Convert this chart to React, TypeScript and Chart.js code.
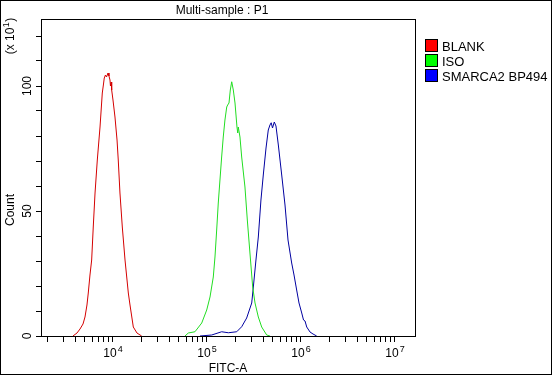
import React, { useEffect, useRef } from "react";
import { Chart, registerables } from "chart.js";

Chart.register(...registerables);

// FITC-A positions are stored as log10 exponents; counts are in units of 10^1
const blankExp = [3.574, 3.617, 3.649, 3.681, 3.702, 3.723, 3.737, 3.755, 3.773, 3.790, 3.809, 3.833, 3.862, 3.886, 3.899, 3.907, 3.920, 3.931, 3.947, 3.957, 3.968, 3.973, 3.981, 3.986, 4.000, 4.021, 4.043, 4.056, 4.074, 4.099, 4.128, 4.163, 4.181, 4.216, 4.255, 4.305];
const blankCount = [0, 1.2, 2.8, 4.8, 7.6, 12.4, 17.2, 24.4, 30.4, 43.6, 57.2, 70.4, 83.6, 97.2, 100.8, 103.2, 104.4, 103.6, 105.2, 104, 102.4, 100, 101.6, 98.4, 94.4, 87.6, 78.4, 70.4, 57.2, 43.6, 30.4, 17.2, 12.4, 3.6, 1.2, 0];

const isoExp = [4.766, 4.801, 4.872, 4.944, 4.997, 5.032, 5.067, 5.085, 5.103, 5.120, 5.138, 5.156, 5.173, 5.191, 5.210, 5.220, 5.234, 5.248, 5.263, 5.280, 5.298, 5.319, 5.327, 5.333, 5.351, 5.369, 5.404, 5.429, 5.457, 5.486, 5.511, 5.546, 5.582, 5.635, 5.670];
const isoCount = [0, 1.2, 1.7, 5.2, 10.4, 15.6, 23.6, 31.6, 42.4, 53.2, 62.4, 71.6, 79.6, 86.4, 91.6, 92.4, 93.2, 98.4, 101.7, 98.4, 93.2, 83.6, 81.2, 83.6, 79.6, 71.6, 59.6, 46.4, 33.2, 19.6, 13.2, 7.6, 3.6, 0.4, 0];

const smarcaExp = [4.926, 5.050, 5.156, 5.227, 5.316, 5.369, 5.422, 5.476, 5.493, 5.521, 5.546, 5.574, 5.599, 5.628, 5.652, 5.670, 5.683, 5.697, 5.716, 5.734, 5.759, 5.795, 5.830, 5.862, 5.901, 5.926, 5.954, 5.979, 6.008, 6.027, 6.043, 6.061, 6.096, 6.128, 6.167];
const smarcaCount = [0, 0.4, 1.7, 1.3, 1.7, 3.7, 7.2, 13.2, 19.6, 30.4, 39.6, 54.4, 64.4, 75.2, 82.4, 84.4, 85.3, 83.2, 85.6, 84, 76.4, 64.4, 52.4, 38.4, 29.2, 24.4, 18.4, 13.2, 9.2, 6.4, 6, 3.6, 1.6, 0.8, 0];

const seriesNames = ["BLANK", "ISO", "SMARCA2 BP494"];
const lineColors = ["#d40000", "#22dd22", "#0000a0"];
const legendColors = ["#ff0000", "#00ff00", "#0000ff"];
const xDecades = [4, 5, 6, 7];
const yLabels = [0, 50, 100];
const yMax = 126.8;
const xMinExp = 3.234;
const xMaxExp = 7.213;

const FONT = "'Liberation Sans', Arial, sans-serif";

const toPoints = (ex: number[], cnt: number[]) => ex.map((e, i) => ({ x: Math.pow(10, e), y: cnt[i] }));

const decorPlugin = {
  id: "decor",
  afterDraw(chart: any) {
    const ctx = chart.ctx;
    const a = chart.chartArea;
    const xs = chart.scales.x;
    const ys = chart.scales.y;
    ctx.save();
    ctx.strokeStyle = "#000";
    ctx.lineWidth = 1;
    // outer border
    ctx.strokeRect(0.5, 0.5, chart.width - 1, chart.height - 1);
    // plot frame
    ctx.strokeRect(Math.round(a.left) + 0.5, Math.round(a.top) + 0.5, Math.round(a.right - a.left), Math.round(a.bottom - a.top));
    ctx.fillStyle = "#000";
    // title
    ctx.font = `12px ${FONT}`;
    ctx.textAlign = "center";
    ctx.textBaseline = "alphabetic";
    ctx.fillText("Multi-sample : P1", (a.left + a.right) / 2 - 6, 14);
    // x tick labels
    xDecades.forEach((d) => {
      const px = xs.getPixelForValue(Math.pow(10, d));
      ctx.font = `12px ${FONT}`;
      const w10 = ctx.measureText("10").width;
      ctx.font = `9px ${FONT}`;
      const wSup = ctx.measureText(String(d)).width;
      const start = px - (w10 + wSup + 1) / 2;
      ctx.textAlign = "left";
      ctx.font = `12px ${FONT}`;
      ctx.fillText("10", start, 357);
      ctx.font = `9px ${FONT}`;
      ctx.fillText(String(d), start + w10 + 1, 352);
    });
    // x title
    ctx.font = `12px ${FONT}`;
    ctx.textAlign = "center";
    ctx.fillText("FITC-A", (a.left + a.right) / 2, 372);
    // y tick labels (rotated)
    yLabels.forEach((v) => {
      const py = ys.getPixelForValue(v);
      ctx.save();
      ctx.translate(31, py);
      ctx.rotate(-Math.PI / 2);
      ctx.font = `12px ${FONT}`;
      ctx.textAlign = "center";
      ctx.fillText(String(v), 0, 0);
      ctx.restore();
    });
    // y title
    ctx.save();
    ctx.translate(14, 210);
    ctx.rotate(-Math.PI / 2);
    ctx.font = `12px ${FONT}`;
    ctx.textAlign = "center";
    ctx.fillText("Count", 0, 0);
    ctx.restore();
    ctx.save();
    ctx.translate(14, 36);
    ctx.rotate(-Math.PI / 2);
    ctx.font = `12px ${FONT}`;
    ctx.textAlign = "left";
    const t1 = "(x 10";
    const wt1 = ctx.measureText(t1).width;
    ctx.textAlign = "left";
    const total = wt1 + 6 + ctx.measureText(")").width;
    const sx = -total / 2;
    ctx.fillText(t1, sx, 0);
    ctx.font = `9px ${FONT}`;
    ctx.fillText("1", sx + wt1 + 0.5, -5);
    ctx.font = `12px ${FONT}`;
    ctx.fillText(")", sx + wt1 + 6, 0);
    ctx.restore();
    // legend
    seriesNames.forEach((name, i) => {
      const y0 = 40 + i * 15;
      ctx.fillStyle = legendColors[i];
      ctx.fillRect(426, y0, 11, 11);
      ctx.strokeStyle = "#000";
      ctx.strokeRect(425.5, y0 - 0.5, 12, 12);
      ctx.fillStyle = "#000";
      ctx.font = `13px ${FONT}`;
      ctx.textAlign = "left";
      ctx.fillText(name, 442, y0 + 11);
    });
    ctx.restore();
  },
};

export default function App() {
  const ref = useRef<HTMLCanvasElement | null>(null);
  useEffect(() => {
    document.body.style.margin = "0";
    const canvas = ref.current;
    if (!canvas) return;
    const datasets = [
      toPoints(blankExp, blankCount),
      toPoints(isoExp, isoCount),
      toPoints(smarcaExp, smarcaCount),
    ].map((data, i) => ({
      label: seriesNames[i],
      data,
      borderColor: lineColors[i],
      backgroundColor: lineColors[i],
      borderWidth: 1,
      pointRadius: 0,
      tension: 0,
      fill: false,
    }));
    const chart = new Chart(canvas, {
      type: "line",
      data: { datasets },
      options: {
        animation: false,
        responsive: false,
        devicePixelRatio: 1,
        layout: { padding: { top: 19, right: 137, left: 0, bottom: 0 } },
        plugins: { legend: { display: false }, title: { display: false }, tooltip: { enabled: false } },
        scales: {
          x: {
            type: "logarithmic",
            min: Math.pow(10, xMinExp),
            max: Math.pow(10, xMaxExp),
            afterBuildTicks: (scale: any) => {
              const t: any[] = [];
              for (let d = 3; d <= 7; d++) {
                for (let k = 1; k <= 9; k++) {
                  const v = k * Math.pow(10, d);
                  if (v >= scale.min && v <= scale.max) t.push({ value: v });
                }
              }
              scale.ticks = t;
            },
            afterFit: (scale: any) => {
              scale.height = 39;
            },
            grid: { display: true, drawOnChartArea: false, drawTicks: true, tickLength: 6, color: "#000" },
            border: { display: true, color: "#000" },
            ticks: { autoSkip: false, maxRotation: 0, callback: () => "" },
          },
          y: {
            type: "linear",
            min: 0,
            max: yMax,
            afterBuildTicks: (scale: any) => {
              const t: any[] = [];
              for (let v = 0; v <= 120; v += 10) t.push({ value: v });
              scale.ticks = t;
            },
            afterFit: (scale: any) => {
              scale.width = 41;
            },
            grid: { display: true, drawOnChartArea: false, drawTicks: true, tickLength: 5, color: "#000" },
            border: { display: true, color: "#000" },
            ticks: { autoSkip: false, callback: () => "" },
          },
        },
      },
      plugins: [decorPlugin],
    });
    return () => chart.destroy();
  }, []);
  return (
    <div style={{ width: 552, height: 375, background: "#fff" }}>
      <canvas ref={ref} width={552} height={375} style={{ display: "block" }} />
    </div>
  );
}
